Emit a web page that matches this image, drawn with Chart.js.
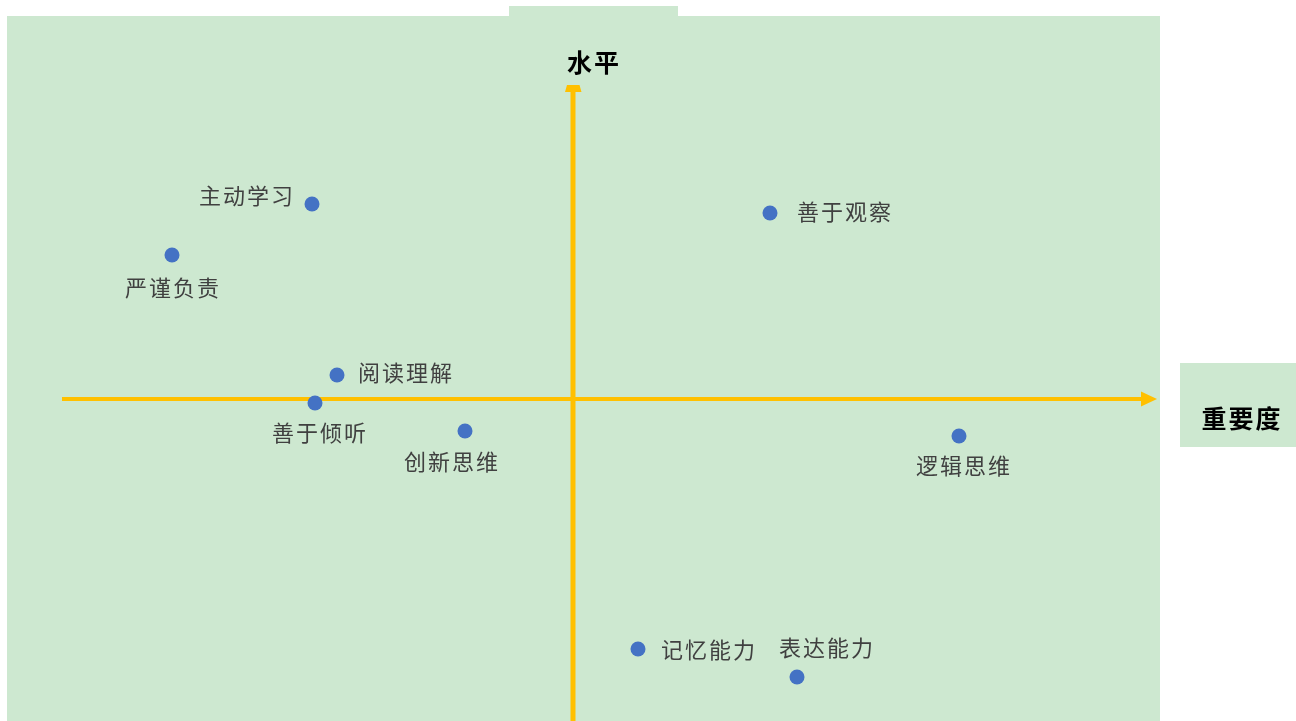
<!DOCTYPE html>
<html>
<head>
    <title>重要度 / 水平</title>
    <script src="https://cdn.jsdelivr.net/npm/chart.js"></script>
    <style>
        html, body { margin: 0; padding: 0; background: #fff; overflow: hidden; }
        canvas { display: block; }
    </style>
</head>
<body>
    <canvas id="quadChart" width="1296" height="721"></canvas>
    <script>
        // data (importance on x, level on y)
        const skills = ['主动学习', '严谨负责', '善于观察', '阅读理解', '善于倾听', '创新思维', '逻辑思维', '记忆能力', '表达能力'];
        const importance = [-2.61, -4.01, 1.97, -2.36, -2.58, -1.08, 3.86, 0.65, 2.24];
        const level = [1.95, 1.44, 1.86, 0.24, -0.04, -0.32, -0.37, -2.50, -2.78];

        // label placement relative to each point, [dx, dy, align]
        const labelOffsets = [[-19, -8, 'right'], [0, 33, 'center'], [27, -1, 'left'], [21, -2, 'left'],
            [4, 30, 'center'], [-14, 31, 'center'], [4, 30, 'center'], [23, 1, 'left'], [29, -29, 'center']];

        const green = '#cde8d0';
        const gold = '#ffc000';

        const backdrop = {
            id: 'backdrop',
            beforeDraw(chart) {
                const c = chart.ctx;
                const a = chart.chartArea;
                c.save();
                c.fillStyle = green;
                c.fillRect(a.left, a.top, a.right - a.left, a.bottom - a.top);
                c.fillRect(509, 6, 169, 10);
                c.fillRect(1180, 363, 116, 84);
                c.restore();
            }
        };

        // orange axes with arrow heads through (0, 0)
        const arrows = {
            id: 'arrows',
            beforeDatasetsDraw(chart) {
                const c = chart.ctx;
                const xs = chart.scales.x, ys = chart.scales.y;
                const x0 = xs.getPixelForValue(0), y0 = ys.getPixelForValue(0);
                const xl = xs.getPixelForValue(-5.11), xr = xs.getPixelForValue(5.84);
                const yt = ys.getPixelForValue(3.13), yb = chart.chartArea.bottom;
                c.save();
                c.strokeStyle = gold;
                c.fillStyle = gold;
                c.lineWidth = 4;
                c.beginPath();
                c.moveTo(xl, y0); c.lineTo(xr - 12, y0);
                c.stroke();
                c.lineWidth = 5;
                c.beginPath();
                c.moveTo(x0, yb); c.lineTo(x0, yt + 4);
                c.stroke();
                c.beginPath();
                c.moveTo(xr, y0); c.lineTo(xr - 16, y0 - 7.5); c.lineTo(xr - 16, y0 + 7.5);
                c.closePath(); c.fill();
                c.beginPath();
                c.moveTo(x0 - 8, yt + 6); c.lineTo(x0 + 8.5, yt + 6); c.lineTo(x0 + 6.5, yt - 1); c.lineTo(x0 - 6, yt - 1);
                c.closePath(); c.fill();
                c.restore();
            }
        };

        const texts = {
            id: 'texts',
            afterDatasetsDraw(chart) {
                const c = chart.ctx;
                const meta = chart.getDatasetMeta(0);
                c.save();
                c.font = '22px "Noto Sans CJK SC", sans-serif';
                c.letterSpacing = '2px';
                c.fillStyle = '#404040';
                c.textBaseline = 'middle';
                meta.data.forEach((pt, i) => {
                    const [dx, dy, align] = labelOffsets[i];
                    c.textAlign = align;
                    let x = pt.x + dx;
                    if (align === 'center') x += 1;
                    if (align === 'right') x += 2;
                    c.fillText(skills[i], x, pt.y + dy);
                });
                c.font = 'bold 25px "Noto Sans CJK SC", sans-serif';
                c.letterSpacing = '2px';
                c.fillStyle = '#000';
                c.textAlign = 'center';
                c.fillText('水平', 594, 62);
                c.fillText('重要度', 1242, 418);
                c.restore();
            }
        };

        new Chart(document.getElementById('quadChart'), {
            type: 'scatter',
            data: {
                datasets: [{
                    data: skills.map((s, i) => ({ x: importance[i], y: level[i] })),
                    backgroundColor: '#4472c4',
                    borderWidth: 0,
                    pointRadius: 7.5,
                    pointHoverRadius: 7.5
                }]
            },
            options: {
                responsive: false,
                animation: false,
                layout: { autoPadding: false, padding: { left: 7, right: 136, top: 16, bottom: 0 } },
                scales: {
                    x: { type: 'linear', min: -5.66, max: 5.87, display: false },
                    y: { type: 'linear', min: -3.22, max: 3.83, display: false }
                },
                plugins: { legend: { display: false }, tooltip: { enabled: false } }
            },
            plugins: [backdrop, arrows, texts]
        });
    </script>
</body>
</html>
